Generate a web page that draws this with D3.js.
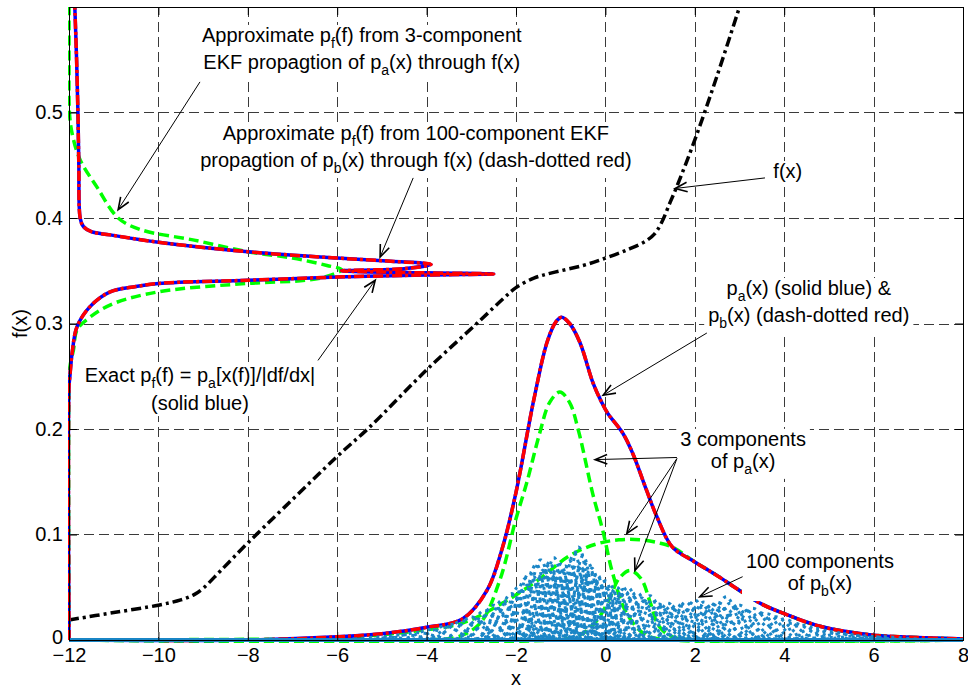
<!DOCTYPE html>
<meta charset="utf-8">
<style>
body { margin: 0; background: #fff; }
#chart svg { font-family: Arial, "Liberation Sans", Helvetica, sans-serif; }
</style>
<body>
<div id="chart"></div>
<script src="https://d3js.org/d3.v7.min.js"></script>
<script>

// ---- data ----
var xTicks = [-12, -10, -8, -6, -4, -2, 0, 2, 4, 6, 8];
var yTicks = [0, 0.1, 0.2, 0.3, 0.4, 0.5];

// f(x) : black dash-dot
var fxX = [-12, -11, -10, -9.5, -9.2, -9.0, -8.6, -8, -7.2, -6, -5.27, -4, -2.8, -2.3, -2.0, -1.6, -1.2, -0.5, 0, 0.5, 0.9, 1.1, 1.25, 1.45, 1.6, 2.0, 2.5, 3.0];
var fxY = [0.019, 0.026, 0.033, 0.038, 0.043, 0.049, 0.066, 0.092, 0.125, 0.174, 0.202, 0.256, 0.303, 0.323, 0.334, 0.343, 0.348, 0.355, 0.362, 0.370, 0.378, 0.385, 0.395, 0.415, 0.430, 0.474, 0.535, 0.600];

// p_a(x) solid blue, p_b(x) dash-dotted red (they coincide)
var paX = [-12, -8, -6, -5, -4, -3.2, -2.65, -2.3, -2.0, -1.6, -1.3, -1.1, -0.98, -0.8, -0.57, -0.28, -0.08, 0.05, 0.39, 0.61, 0.92, 1.15, 1.5, 2.0, 2.5, 3.0, 3.5, 4.0, 4.8, 5.9, 6.6, 8];
var paY = [0, 0.000, 0.003, 0.006, 0.012, 0.020, 0.047, 0.088, 0.140, 0.228, 0.283, 0.302, 0.306, 0.300, 0.282, 0.244, 0.225, 0.215, 0.196, 0.177, 0.142, 0.117, 0.088, 0.074, 0.061, 0.047, 0.034, 0.025, 0.013, 0.005, 0.003, 0.001];

// three green components of p_a(x)
var comp1X = [-12, -4, -3.3, -2.8, -2.36, -2.0, -1.76, -1.47, -1.25, -1.02, -0.8, -0.6, -0.28, -0.06, 0.17, 0.48, 0.9, 1.5, 8];
var comp1Y = [0, 0, 0.003, 0.016, 0.057, 0.115, 0.149, 0.196, 0.225, 0.235, 0.225, 0.198, 0.138, 0.104, 0.062, 0.025, 0.005, 0, 0];
var comp2X = [-12, -7, -6, -5, -4.15, -3.2, -2.3, -1.5, -0.8, -0.2, 0.3, 0.77, 1.2, 1.5, 2.0, 2.5, 3.0, 3.5, 4.0, 4.8, 5.9, 6.6, 8];
var comp2Y = [0, 0.001, 0.002, 0.005, 0.009, 0.016, 0.035, 0.057, 0.080, 0.091, 0.095, 0.095, 0.092, 0.088, 0.074, 0.061, 0.047, 0.034, 0.025, 0.013, 0.005, 0.003, 0.001];
var comp3X = [-12, -1.2, -0.6, -0.2, 0.1, 0.3, 0.55, 0.8, 1.0, 1.2, 1.5, 2.0, 8];
var comp3Y = [0, 0, 0.004, 0.018, 0.040, 0.058, 0.066, 0.058, 0.036, 0.013, 0.003, 0, 0];

// exact p_f(f) (solid blue) and 100-component approx (dash-dotted red), as (x, f)
var pfX = [-12, -12, -11.98, -11.93, -11.82, -11.53, -11.08, -10.5, -10.0, -8.0, -6.0, -4.0, -2.5, -4.0, -5.9, -4.5, -3.9, -4.8, -6.0, -8.0, -10.0, -11.08, -11.5, -11.68, -11.75, -11.78, -11.8, -11.83, -11.87];
var pfY = [0, 0.24, 0.25, 0.272, 0.297, 0.316, 0.330, 0.335, 0.338, 0.341, 0.344, 0.346, 0.347, 0.348, 0.350, 0.352, 0.356, 0.359, 0.362, 0.368, 0.377, 0.384, 0.387, 0.392, 0.400, 0.450, 0.500, 0.550, 0.600];

// 3-component EKF approx of p_f(f) (green dashed), as (x, f)
var pf3X = [-12, -12, -11.98, -11.9, -11.82, -11.53, -11.0, -10.0, -8.0, -6.7, -6.2, -5.9, -6.23, -7.0, -8.0, -9.2, -10.4, -10.9, -11.37, -11.75, -11.93, -11.99, -12, -12];
var pf3Y = [0, 0.24, 0.259, 0.275, 0.294, 0.306, 0.319, 0.330, 0.338, 0.341, 0.345, 0.351, 0.355, 0.362, 0.368, 0.379, 0.389, 0.400, 0.429, 0.455, 0.480, 0.500, 0.550, 0.600];

// 100 components of p_b(x): centre, peak height, spread
var compMu = [
  -5.0, -4.5, -4.2, -3.9, -3.6, -3.4, -3.2, -3.0, -2.85, -2.7,
  -2.6, -2.5, -2.4, -2.3, -2.2, -2.1, -2.0, -1.95, -1.9, -1.8,
  -1.75, -1.7, -1.6, -1.55, -1.5, -1.45, -1.4, -1.3, -1.25, -1.2,
  -1.15, -1.1, -1.05, -1.0, -0.95, -0.9, -0.85, -0.8, -0.75, -0.7,
  -0.65, -0.6, -0.55, -0.5, -0.45, -0.4, -0.35, -0.3, -0.25, -0.2,
  -0.15, -0.1, -0.05, 0.0, 0.05, 0.1, 0.2, 0.25, 0.3, 0.4,
  0.45, 0.5, 0.6, 0.7, 0.8, 0.9, 1.0, 1.1, 1.2, 1.3,
  1.4, 1.5, 1.6, 1.7, 1.8, 1.9, 2.0, 2.1, 2.2, 2.3,
  2.4, 2.5, 2.6, 2.7, 2.8, 2.9, 3.0, 3.15, 3.3, 3.45,
  3.6, 3.8, 4.0, 4.2, 4.4, 4.7, 5.0, 5.3, 5.7, 6.2];
var compH = [
  0.003, 0.005, 0.007, 0.010, 0.013, 0.015, 0.018, 0.022, 0.020, 0.028,
  0.025, 0.033, 0.030, 0.038, 0.035, 0.044, 0.040, 0.050, 0.046, 0.058,
  0.052, 0.064, 0.060, 0.072, 0.058, 0.076, 0.066, 0.070, 0.074, 0.062,
  0.078, 0.068, 0.060, 0.072, 0.064, 0.070, 0.058, 0.075, 0.066, 0.082,
  0.072, 0.088, 0.070, 0.080, 0.062, 0.074, 0.066, 0.068, 0.058, 0.062,
  0.055, 0.060, 0.050, 0.056, 0.048, 0.052, 0.045, 0.050, 0.044, 0.048,
  0.046, 0.050, 0.042, 0.045, 0.040, 0.038, 0.042, 0.036, 0.034, 0.032,
  0.035, 0.030, 0.034, 0.032, 0.036, 0.030, 0.038, 0.033, 0.036, 0.031,
  0.034, 0.036, 0.032, 0.041, 0.035, 0.030, 0.033, 0.028, 0.030, 0.026,
  0.025, 0.022, 0.020, 0.016, 0.014, 0.011, 0.008, 0.006, 0.004, 0.003];
var compSd = [
  0.40, 0.35, 0.35, 0.30, 0.30, 0.25, 0.30, 0.25, 0.20, 0.25,
  0.20, 0.25, 0.18, 0.22, 0.20, 0.25, 0.18, 0.22, 0.15, 0.20,
  0.18, 0.22, 0.15, 0.20, 0.14, 0.22, 0.16, 0.20, 0.18, 0.15,
  0.20, 0.16, 0.14, 0.18, 0.15, 0.20, 0.14, 0.18, 0.16, 0.20,
  0.16, 0.20, 0.15, 0.18, 0.14, 0.20, 0.16, 0.18, 0.15, 0.20,
  0.16, 0.20, 0.14, 0.18, 0.15, 0.20, 0.16, 0.22, 0.18, 0.20,
  0.18, 0.22, 0.20, 0.25, 0.22, 0.25, 0.22, 0.25, 0.22, 0.25,
  0.22, 0.25, 0.20, 0.25, 0.22, 0.25, 0.20, 0.25, 0.22, 0.25,
  0.22, 0.25, 0.20, 0.22, 0.25, 0.22, 0.25, 0.25, 0.28, 0.25,
  0.30, 0.30, 0.30, 0.35, 0.35, 0.35, 0.40, 0.40, 0.45, 0.50];

// ---- layout ----
var W = 968, H = 688;
var margin = {top: 7, right: 5, bottom: 48, left: 69};

var svg = d3.select("#chart").append("svg")
  .attr("width", W).attr("height", H);

var x = d3.scaleLinear().domain([-12, 8]).range([margin.left, W - margin.right]);
var y = d3.scaleLinear().domain([0, 0.6]).range([H - margin.bottom, margin.top]);

// lines may spill a little past the box, like the original export
svg.append("clipPath").attr("id", "clip").append("rect")
  .attr("x", x(-12) - 1).attr("y", y(0.6))
  .attr("width", x(8) - x(-12) + 2).attr("height", y(0) - y(0.6) + 3);

// grid
var grid = svg.append("g").attr("stroke", "#3a3a3a").attr("stroke-width", 1).attr("stroke-dasharray", "10,5");
grid.selectAll(".vg").data(xTicks.slice(1, -1)).enter().append("line")
  .attr("x1", d => Math.round(x(d)) + 0.5).attr("x2", d => Math.round(x(d)) + 0.5)
  .attr("y1", y(0.6)).attr("y2", y(0));
grid.selectAll(".hg").data(yTicks.slice(1)).enter().append("line")
  .attr("y1", d => Math.round(y(d)) + 0.5).attr("y2", d => Math.round(y(d)) + 0.5)
  .attr("x1", x(-12)).attr("x2", x(8));

var plot = svg.append("g").attr("clip-path", "url(#clip)");

function zipXY(a, b) { return a.map((v, i) => [v, b[i]]); }
var smooth = d3.line().x(d => x(d[0])).y(d => y(d[1])).curve(d3.curveCatmullRom.alpha(0.5));

function drawCurve(pts, color, w, dash) {
  plot.append("path").datum(pts)
    .attr("d", smooth)
    .attr("fill", "none")
    .attr("stroke", color)
    .attr("stroke-width", w)
    .attr("stroke-linejoin", "round")
    .attr("stroke-dasharray", dash || null);
}

// f(x)
drawCurve(zipXY(fxX, fxY), "#000", 3.5, "10,4,3,4");
// p_f curves along the f axis
drawCurve(zipXY(pf3X, pf3Y), "#00ff00", 3.5, "10,5");
drawCurve(zipXY(pfX, pfY), "#0000ff", 3.5);
drawCurve(zipXY(pfX, pfY), "#ff0000", 3.5, "10,3,3,3");
// three components
drawCurve(zipXY(comp1X, comp1Y), "#00ff00", 3.5, "10,5");
drawCurve(zipXY(comp2X, comp2Y), "#00ff00", 3.5, "10,5");
drawCurve(zipXY(comp3X, comp3Y), "#00ff00", 3.5, "10,5");
// p_a, p_b
drawCurve(zipXY(paX, paY), "#0000ff", 3.5);
drawCurve(zipXY(paX, paY), "#ff0000", 3.5, "10,3,3,3");

// 100 dotted components of p_b(x)
var xs = d3.range(-12, 8.0001, 0.02);
var straight = d3.line().x(d => x(d[0])).y(d => y(d[1]));
compMu.forEach(function(mu, i) {
  var pts = xs.map(v => [v, compH[i] * Math.exp(-0.5 * Math.pow((v - mu) / compSd[i], 2))]);
  plot.append("path").datum(pts)
    .attr("d", straight)
    .attr("fill", "none")
    .attr("stroke", "#1b86c6")
    .attr("stroke-width", 3)
    .attr("stroke-dasharray", "3,4.5")
    .attr("stroke-dashoffset", (i * 2.3) % 7.5);
});

// axes box, ticks, labels
var axes = svg.append("g");
axes.append("rect")
  .attr("x", x(-12) + 0.5).attr("y", y(0.6) + 0.5)
  .attr("width", x(8) - x(-12)).attr("height", y(0) - y(0.6))
  .attr("fill", "none").attr("stroke", "#000");

var bottomAxis = d3.axisBottom(x).tickValues(xTicks).tickSizeInner(-8).tickSizeOuter(0).tickPadding(8);
var leftAxis = d3.axisLeft(y).tickValues(yTicks).tickSizeInner(-8).tickSizeOuter(0).tickPadding(6)
  .tickFormat(d => d === 0 ? "0" : d3.format(".1f")(d));
var topAxis = d3.axisTop(x).tickValues(xTicks).tickSizeInner(-8).tickSizeOuter(0);
var rightAxis = d3.axisRight(y).tickValues(yTicks).tickSizeInner(-8).tickSizeOuter(0);

function styleAxis(g) {
  g.select(".domain").remove();
  g.selectAll("text").attr("font-size", 20).attr("fill", "#000")
    .attr("font-family", "Arial, 'Liberation Sans', sans-serif");
  g.selectAll("line").attr("stroke", "#000");
}
axes.append("g").attr("transform", "translate(0," + y(0) + ")").call(bottomAxis).call(styleAxis);
axes.append("g").attr("transform", "translate(" + x(-12) + ",0)").call(leftAxis).call(styleAxis)
  .selectAll("text").filter(d => d === 0).attr("dy", "0.16em");
axes.append("g").attr("transform", "translate(0," + y(0.6) + ")").call(topAxis).call(styleAxis)
  .selectAll("text").remove();
axes.append("g").attr("transform", "translate(" + x(8) + ",0)").call(rightAxis).call(styleAxis)
  .selectAll("text").remove();

svg.append("text").attr("x", (x(-12) + x(8)) / 2).attr("y", 685)
  .attr("text-anchor", "middle").attr("font-size", 20).text("x");
svg.append("text").attr("transform", "translate(27," + ((y(0) + y(0.6)) / 2) + ") rotate(-90)")
  .attr("text-anchor", "middle").attr("font-size", 20).text("f(x)");

// ---- annotations ----
var labels = [
  {x: -5.45, y: 0.5669, gap: 27, lines: ["Approximate p_{f}(f) from 3-component", "EKF propagtion of p_{a}(x) through f(x)"]},
  {x: -4.24, y: 0.4739, gap: 27, lines: ["Approximate p_{f}(f) from 100-component EKF", "propagtion of p_{b}(x) through f(x) (dash-dotted red)"]},
  {x: -9.07, y: 0.2445, gap: 28, lines: ["Exact p_{f}(f) = p_{a}[x(f)]/|df/dx|", "(solid blue)"]},
  {x: 4.08, y: 0.4379, gap: 0, lines: ["f(x)"]},
  {x: 4.55, y: 0.327, gap: 27, lines: ["p_{a}(x) (solid blue) &", "p_{b}(x) (dash-dotted red)"]},
  {x: 3.08, y: 0.184, gap: 22, lines: ["3 components", "of p_{a}(x)"]},
  {x: 4.80, y: 0.0682, gap: 22, lines: ["100 components", "of p_{b}(x)"]}
];

var arrows = [
  [[-9.07, 0.529], [-10.90, 0.408]],
  [[-4.30, 0.438], [-5.04, 0.363]],
  [[-6.43, 0.265], [-5.15, 0.341]],
  [[3.57, 0.438], [1.56, 0.428]],
  [[2.27, 0.291], [-0.05, 0.232]],
  [[1.60, 0.173], [-0.23, 0.171]],
  [[1.60, 0.172], [0.48, 0.101]],
  [[1.60, 0.172], [0.66, 0.066]],
  [[3.07, 0.060], [2.11, 0.041]]
];

var ann = svg.append("g").attr("font-size", 20).attr("fill", "#000");
labels.forEach(function(l) {
  var g = ann.append("g");
  var bg = g.append("rect").attr("fill", "#fff");
  l.lines.forEach(function(s, k) {
    var t = g.append("text").attr("x", x(l.x)).attr("y", y(l.y) + k * l.gap)
      .attr("text-anchor", "middle");
    var back = 0;
    s.split(/(_\{[^}]*\})/).forEach(function(part) {
      if (!part) return;
      if (part[0] === "_") {
        t.append("tspan").attr("font-size", 14).attr("dy", 6).text(part.slice(2, -1));
        back = -6;
      } else {
        t.append("tspan").attr("dy", back || null).text(part);
        back = 0;
      }
    });
  });
  var b = g.node().getBBox();
  bg.attr("x", b.x - 4).attr("y", b.y + 1).attr("width", b.width + 8).attr("height", b.height + 1);
});

var ar = svg.append("g").attr("stroke", "#000").attr("fill", "none");
arrows.forEach(function(a) {
  var x0 = x(a[0][0]), y0 = y(a[0][1]), x1 = x(a[1][0]), y1 = y(a[1][1]);
  ar.append("line").attr("x1", x0).attr("y1", y0).attr("x2", x1).attr("y2", y1).attr("stroke-width", 1);
  var ang = Math.atan2(y0 - y1, x0 - x1), len = 13, spread = 0.38;
  var p1 = [x1 + len * Math.cos(ang + spread), y1 + len * Math.sin(ang + spread)];
  var p2 = [x1 + len * Math.cos(ang - spread), y1 + len * Math.sin(ang - spread)];
  ar.append("path").attr("d", "M" + p1 + "L" + x1 + "," + y1 + "L" + p2)
    .attr("stroke-width", 1.6);
});

</script>
